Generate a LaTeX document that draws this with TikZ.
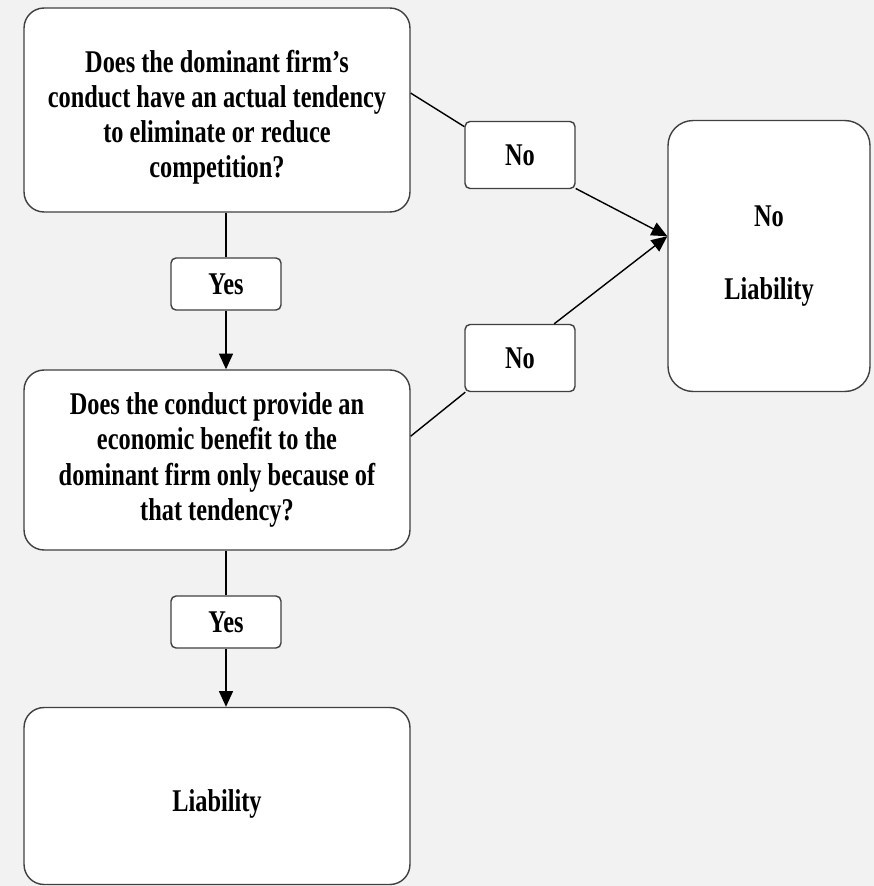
\documentclass[tikz,border=0pt]{standalone}
\usepackage{fontspec}
\setmainfont{Liberation Serif}[FakeStretch=0.77]
\usepackage{tikz}
\usetikzlibrary{arrows.meta}

\definecolor{paper}{gray}{0.95}
\definecolor{edge}{gray}{0.25}

\newcommand{\lift}{\rule{0pt}{21pt}}

\tikzset{
  box/.style={draw=edge, line width=0.8pt, fill=white, rounded corners=0.4cm,
    align=center, font=\bfseries\fontsize{18}{20}\selectfont},
  bigbox/.style={box, minimum width=7.72cm},
  answer/.style={box, rounded corners=0.1cm, minimum width=2.2cm},
  link/.style={draw=black, line width=0.8pt},
  tolink/.style={link, -{Triangle[length=9pt,width=8pt]}}
}

\begin{document}
\begin{tikzpicture}[x=0.02cm, y=-0.02cm]

  % Background
  % ==========
  \fill[paper] (0,0) rectangle (874,886);

  % Questions
  % ---------
  \node[bigbox, minimum height=4.08cm] (q1) at (217,110)
    {\lift Does the dominant firm's\\conduct have an actual tendency\\to eliminate or reduce\\competition?};
  \node[bigbox, minimum height=3.6cm] (q2) at (217,460)
    {Does the conduct provide an\\economic benefit to the\\dominant firm only because of\\that tendency?};

  % Outcomes
  % --------
  \node[bigbox, minimum height=3.54cm] (liab) at (217,796) {\lift Liability};
  \node[box, rounded corners=0.5cm, minimum width=4.04cm, minimum height=5.42cm] (noliab) at (769,256)
    {No\\[22pt]Liability};

  % Answers
  % -------
  \node[answer, minimum height=1.04cm] (yes1) at (226,284) {Yes};
  \node[answer, minimum height=1.04cm] (yes2) at (226,622) {Yes};
  \node[answer, minimum height=1.34cm] (no1) at (520,155) {No};
  \node[answer, minimum height=1.34cm] (no2) at (520,358) {No};

  % Connectors
  % ==========
  \draw[link] (yes1.north |- q1.south) -- (yes1.north);
  \draw[tolink] (yes1.south) -- (yes1.south |- q2.north);
  \draw[link] (yes2.north |- q2.south) -- (yes2.north);
  \draw[tolink] (yes2.south) -- (yes2.south |- liab.north);

  \draw[link] (q1.5) -- (no1.153);
  \draw[tolink] (no1.-31) -- (noliab.169);
  \draw[link] (q2.7) -- (no2.212);
  \draw[tolink] (no2.45) -- (noliab.169);

\end{tikzpicture}
\end{document}
